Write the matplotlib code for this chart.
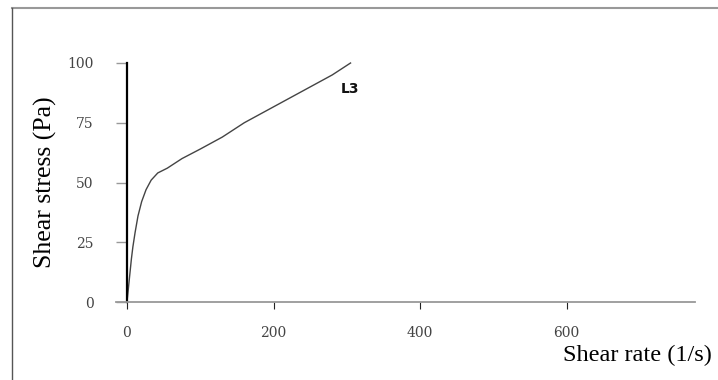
import matplotlib.pyplot as plt
from matplotlib.lines import Line2D

# L3 akış eğrisi (okunan değerler)
shear_rate = [0, 1, 2, 4, 6, 8, 11, 15, 20, 26, 33, 42, 55, 75, 100, 130, 160, 190, 220, 250, 280, 305]
shear_stress = [0, 3, 6, 12, 18, 23, 29, 36, 42, 47, 51, 54, 56, 60, 64, 69, 75, 80, 85, 90, 95, 100]

x_ticks = [0, 200, 400, 600]
y_ticks = [0, 25, 50, 75, 100]
curve_label = "L3"

fig = plt.figure(figsize=(7.18, 3.8), dpi=100)
ax = fig.add_axes([116 / 718, 1 - 302 / 380, (695 - 116) / 718, (302 - 63) / 380])

ax.plot(shear_rate, shear_stress, color="#444444", lw=1.0, clip_on=False)
ax.text(304, 89, curve_label, fontsize=10, fontweight="bold", family="DejaVu Sans",
        ha="center", va="center", color="#111111")

ax.set_xlim(-15, 775)
ax.set_ylim(0, 100)

for s in ["top", "right"]:
    ax.spines[s].set_visible(False)
ax.spines["left"].set_position(("data", 0))
ax.spines["left"].set_color("black")
ax.spines["left"].set_linewidth(1.6)
ax.spines["bottom"].set_color("#999999")
ax.spines["bottom"].set_linewidth(1.3)

ax.set_xticks(x_ticks)
ax.set_yticks(y_ticks)
ax.tick_params(axis="x", direction="out", length=5, width=0.8, color="#222222", pad=12,
               labelsize=10, labelcolor="#444444")
ax.tick_params(axis="y", direction="out", length=8, width=1.0, color="#999999", pad=16,
               labelsize=10, labelcolor="#444444")
for lab in ax.get_xticklabels() + ax.get_yticklabels():
    lab.set_family("DejaVu Serif")

fig.text(45 / 718, 1 - 182 / 380, "Shear stress (Pa)", rotation=90, ha="center", va="center",
         fontsize=18.5, family="Liberation Serif")
fig.text(712 / 718, 1 - 355 / 380, "Shear rate (1/s)", ha="right", va="center",
         fontsize=17.5, family="Liberation Serif")

# çerçeve
fig.add_artist(Line2D([12 / 718, 1], [1 - 8 / 380, 1 - 8 / 380], color="#999999", lw=1.5))
fig.add_artist(Line2D([12 / 718, 12 / 718], [0, 1 - 8 / 380], color="#555555", lw=1.0))

fig.savefig("out.png", dpi=100)
